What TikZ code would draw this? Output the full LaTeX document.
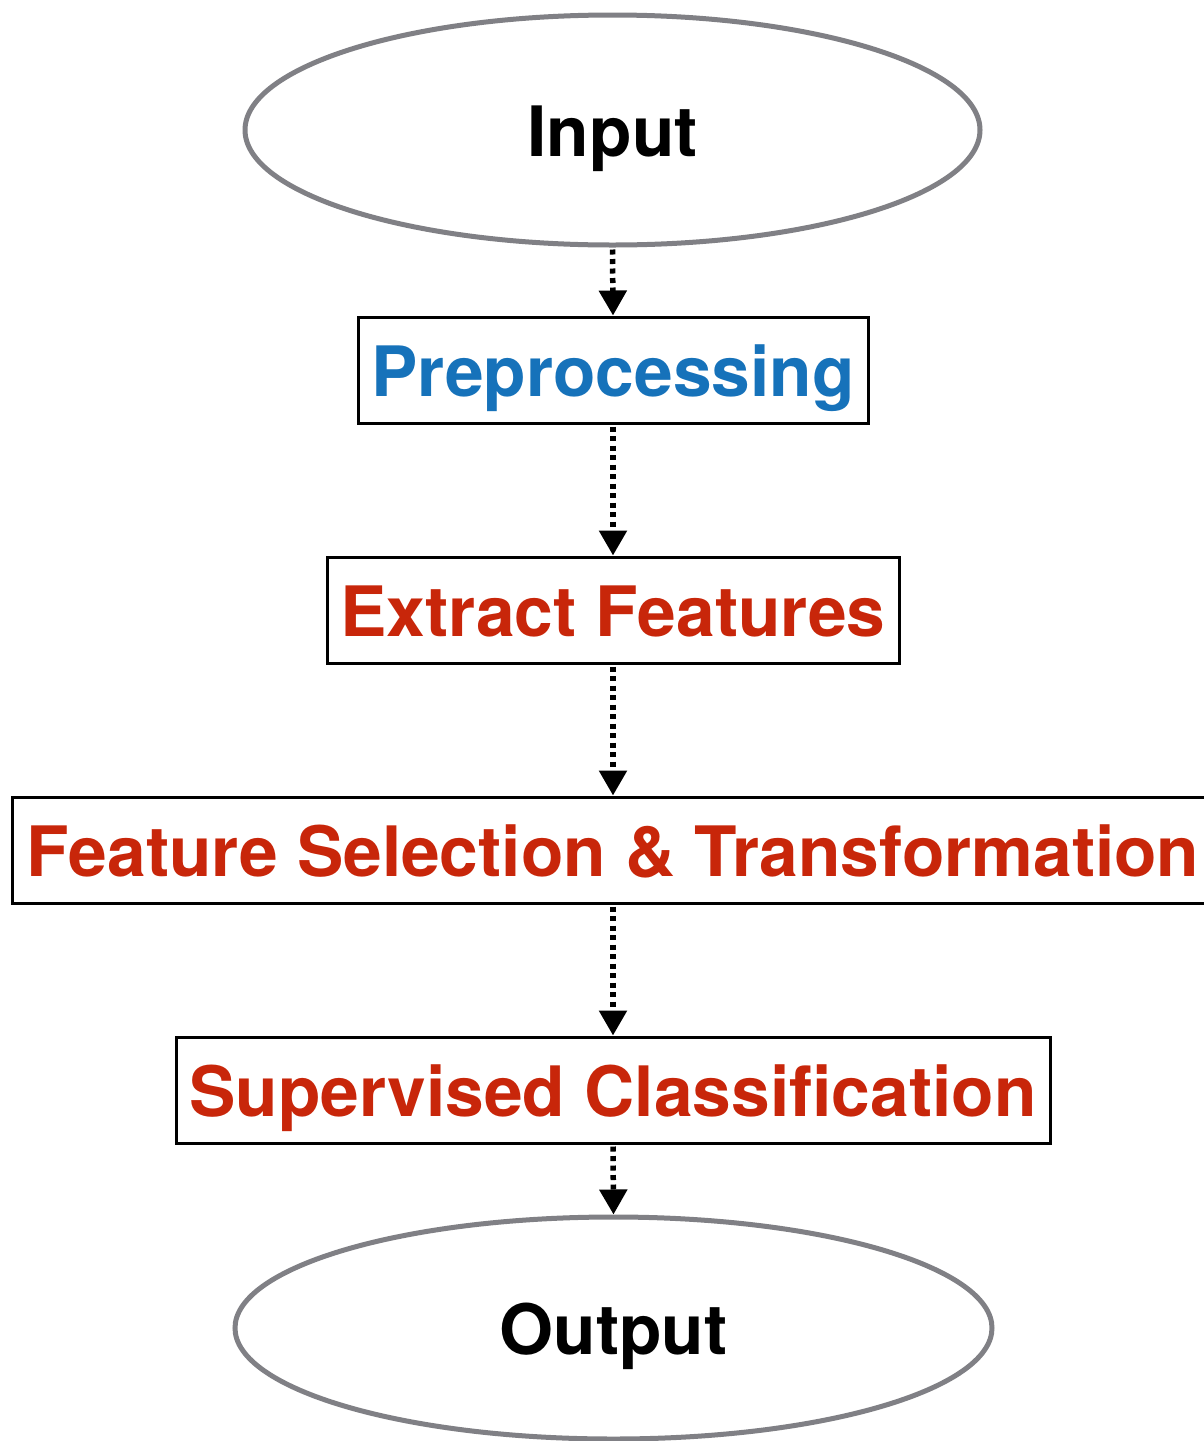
\documentclass[tikz,border=0pt]{standalone}
\usepackage{fontspec}
\setmainfont{TeX Gyre Heros}
\usetikzlibrary{shapes.geometric,arrows.meta}
\definecolor{stepblue}{RGB}{22,114,186}
\definecolor{stepred}{RGB}{200,38,10}
\definecolor{ovalgray}{RGB}{128,128,133}
\tikzset{
  labelfont/.style={font=\fontsize{69.5}{80}\selectfont\bfseries, text height=52pt, text depth=0pt},
  terminal/.style={ellipse, draw=ovalgray, line width=5pt, inner sep=0pt, labelfont, text=black},
  stepbox/.style={rectangle, draw=black, line width=3pt, inner sep=0pt,
    minimum height=106pt, labelfont},
  flowarrow/.style={line width=5.5pt, dash pattern=on 5pt off 4.5pt,
    -{Triangle[width=27pt,length=25pt]}, shorten <=2pt}
}
\begin{document}
\begin{tikzpicture}[x=1pt,y=-1pt]
  \useasboundingbox (0,0) rectangle (1204,1441);
  \fill[white] (0,0) rectangle (1204,1441);

  % start and end of the pipeline
  \node[terminal, minimum width=735pt, minimum height=230pt] (input) at (612.5,130) {Input};
  \node[terminal, minimum width=757pt, minimum height=222pt] (output) at (613.5,1328) {Output};

  % processing stages
  \node[stepbox, minimum width=510pt, text=stepblue] (pre) at (613,370) {Preprocessing};
  \node[stepbox, minimum width=572pt, text=stepred] (extract) at (613,610) {Extract Features};
  \node[stepbox, minimum width=1202pt, text=stepred] (select) at (613,850) {Feature Selection \& Transformation};
  \node[stepbox, minimum width=874pt, text=stepred] (classify) at (613,1090) {Supervised Classification};

  % flow between stages
  \draw[flowarrow] (input.south) -- (pre.north);
  \draw[flowarrow] (pre.south) -- (extract.north);
  \draw[flowarrow] (extract.south) -- (select.north);
  \draw[flowarrow] (select.south) -- (classify.north);
  \draw[flowarrow] (classify.south) -- (output.north);
\end{tikzpicture}
\end{document}
